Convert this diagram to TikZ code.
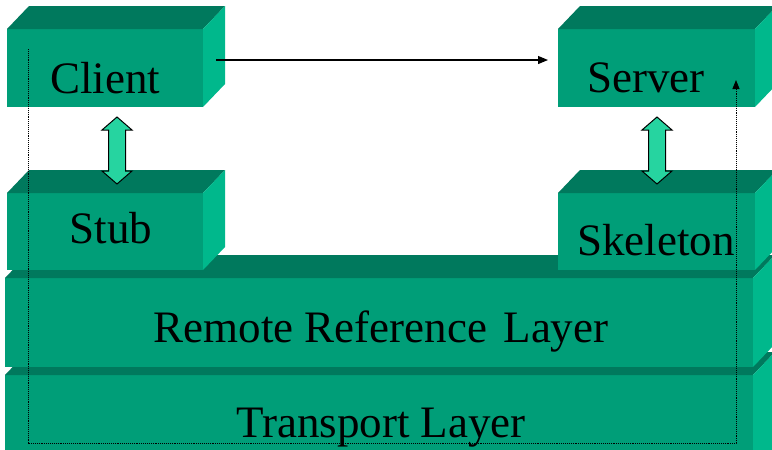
\documentclass[tikz,border=0pt]{standalone}
\usepackage{fontspec}
\setmainfont{Liberation Serif}
\usetikzlibrary{calc,arrows.meta}
\definecolor{frontc}{RGB}{0,158,120}
\definecolor{topc}{RGB}{0,121,93}
\definecolor{sidec}{RGB}{0,184,140}
\definecolor{arrowc}{RGB}{38,212,160}
\tikzset{
  face/.style={fill=frontc, draw=none, inner sep=0pt, outer sep=0pt, anchor=north west},
  lbl/.style={font=\fontsize{45}{45}\selectfont, inner sep=0pt, anchor=base},
  blockarrow/.style={fill=arrowc, draw=black, line width=1pt, line join=miter},
  dotline/.style={densely dotted, line width=0.9pt, -{Triangle[length=9pt,width=7pt]}},
  msg/.style={line width=1.2pt, -{Triangle[length=10pt,width=8pt]}}
}
\newcommand\slab[5]{%
  \node[face, minimum width=#4pt, minimum height=#5pt] (#1) at (#2,#3) {};
  \fill[topc] (#1.north west) -- ++(22,-23) -- ++(#4,0) -- (#1.north east) -- cycle;
  \fill[sidec] (#1.north east) -- ++(22,-23) -- ++(0,#5) -- (#1.south east) -- cycle;
}
\begin{document}
\begin{tikzpicture}[x=1pt,y=-1pt]
\useasboundingbox (0,0) rectangle (772,450);
\clip (0,0) rectangle (772,450);
\fill[white] (0,0) rectangle (772,450);
\slab{transport}{5}{375}{748}{95}
\slab{rrl}{5}{278}{748}{89}
\slab{stub}{7}{193}{196}{77}
\slab{skeleton}{558}{193}{197}{77}
\slab{client}{7}{29}{196}{78}
\slab{server}{558}{29}{197}{78}
\node[lbl] (clientt) at (105,93) {Client};
\node[lbl] (stubt) at (111,243) {Stub};
\node[lbl] (servert) at (646,92) {Server};
\node[lbl] (skelt) at (656,255) {Skeleton};
\node[lbl] (rrlt) at (381,342) {Remote Reference\hspace{5pt} Layer};
\node[lbl] (transt) at (381,437) {Transport Layer};
% block double arrows
\coordinate (csa) at ($(client.south)+(12,10)$);
\coordinate (ssa) at ($(server.south)+(0.5,10)$);
\foreach \c in {csa,ssa}{
  \draw[blockarrow] (\c) -- ++(15,13) -- ++(-6.5,0) -- ++(0,41) -- ++(6.5,0) -- ++(-15,13)
    -- ++(-15,-13) -- ++(6.5,0) -- ++(0,-41) -- ++(-6.5,0) -- cycle;
}
% message arrow
\draw[msg] ($(client.north east)+(13,31)$) -- ($(server.north west)+(-10,31)$);
% dotted path
\coordinate (d1) at ($(client.north west)+(21,20)$);
\coordinate (d3) at (736,443);
\coordinate (dend) at ($(server.north west)+(178,51)$);
\draw[dotline] (d1) -- (d1 |- d3) -- (d3) -- (dend);
\end{tikzpicture}
\end{document}
